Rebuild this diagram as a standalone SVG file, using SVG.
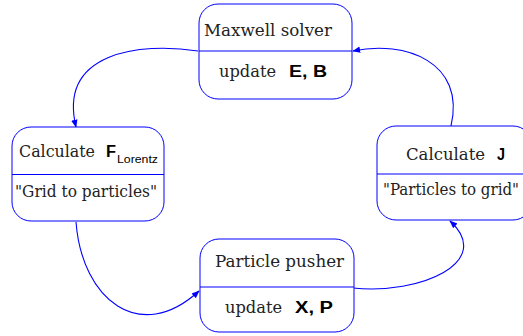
<svg xmlns="http://www.w3.org/2000/svg" width="523" height="336" viewBox="0 0 523 336">
<defs>
<marker id="ah" viewBox="0 0 10 10" refX="9" refY="5" markerWidth="8" markerHeight="8" orient="auto" markerUnits="userSpaceOnUse">
<path d="M0,1 L10,5 L0,9 Z" fill="#0000ff"/>
</marker>
<style>
.box{fill:#fff;stroke:#0000ff;stroke-width:1}
.div{stroke:#0000ff;stroke-width:1}
.conn{fill:none;stroke:#0000ff;stroke-width:1.1;marker-end:url(#ah)}
.s{font-family:"DejaVu Serif","Liberation Serif",serif;font-size:16px;fill:#222}
.b{font-family:"Liberation Sans","DejaVu Sans",sans-serif;font-size:16px;font-weight:bold;fill:#000}
.sub{font-family:"Liberation Sans","DejaVu Sans",sans-serif;font-size:11.5px;fill:#000}
</style>
</defs>
<rect width="523" height="336" fill="#fff"/>
<g id="connectors">
<path class="conn" d="M198,51 C140,42 58,52 76,127"/>
<path class="conn" d="M76,222 C82,300 140,345 199,291"/>
<path class="conn" d="M353,288 C420,295 495,262 450,221"/>
<path class="conn" d="M451,126 C466,62 405,40 353,51"/>
</g>
<g id="maxwell">
<rect class="box" x="199" y="4" width="153" height="95" rx="19"/>
<line class="div" x1="199" y1="51" x2="352" y2="51"/>
<text class="s" x="204" y="36" textLength="128" lengthAdjust="spacingAndGlyphs">Maxwell solver</text>
<text class="s" x="219" y="77" textLength="57" lengthAdjust="spacingAndGlyphs">update</text>
<text class="b" x="289" y="77" textLength="38" lengthAdjust="spacingAndGlyphs">E, B</text>
</g>
<g id="lorentz">
<rect class="box" x="12" y="127" width="152" height="94" rx="19"/>
<line class="div" x1="12" y1="174.5" x2="164" y2="174.5"/>
<text class="s" x="19" y="157" textLength="76" lengthAdjust="spacingAndGlyphs">Calculate</text>
<text class="b" x="106" y="157" textLength="10" lengthAdjust="spacingAndGlyphs">F</text>
<text class="sub" x="117" y="163" textLength="41" lengthAdjust="spacingAndGlyphs">Lorentz</text>
<text class="s" x="15" y="197" textLength="142" lengthAdjust="spacingAndGlyphs">"Grid to particles"</text>
</g>
<g id="current">
<rect class="box" x="377" y="126" width="155" height="94" rx="19"/>
<line class="div" x1="377" y1="174" x2="532" y2="174"/>
<text class="s" x="406" y="160" textLength="79" lengthAdjust="spacingAndGlyphs">Calculate</text>
<text class="b" x="497" y="160" textLength="8" lengthAdjust="spacingAndGlyphs">J</text>
<text class="s" x="383" y="195" textLength="136" lengthAdjust="spacingAndGlyphs">"Particles to grid"</text>
</g>
<g id="pusher">
<rect class="box" x="200" y="239" width="154" height="93" rx="19"/>
<line class="div" x1="200" y1="287" x2="354" y2="287"/>
<text class="s" x="215" y="267" textLength="129" lengthAdjust="spacingAndGlyphs">Particle pusher</text>
<text class="s" x="225" y="313" textLength="57" lengthAdjust="spacingAndGlyphs">update</text>
<text class="b" x="295" y="313" textLength="38" lengthAdjust="spacingAndGlyphs">X, P</text>
</g>
</svg>
